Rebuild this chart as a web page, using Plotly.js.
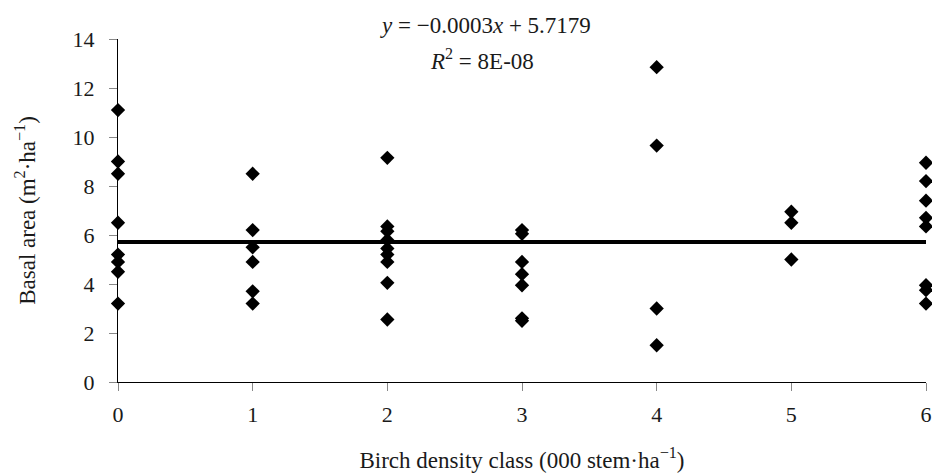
<!DOCTYPE html>
<html>
<head>
<meta charset="utf-8">
<script src="https://cdn.plot.ly/plotly-3.0.1.min.js"></script>
<style>html,body{margin:0;padding:0;background:#fff;}#chart{width:932px;height:473px;}</style>
</head>
<body>
<div id="chart"></div>
<script>
// Birch density class (000 stem/ha) and basal area (m2/ha)
const densityClass = [
  0,0,0,0,0,0,0,0,
  1,1,1,1,1,1,
  2,2,2,2,2,2,2,2,2,
  3,3,3,3,3,3,3,
  4,4,4,4,
  5,5,5,
  6,6,6,6,6,6,6,6
];
const basalArea = [
  11.1,9.0,8.5,6.5,5.2,4.9,4.5,3.2,
  8.5,6.2,5.5,4.9,3.7,3.2,
  9.15,6.35,6.15,5.8,5.45,5.2,4.9,4.05,2.55,
  6.2,6.05,4.9,4.4,3.95,2.6,2.5,
  12.85,9.65,3.0,1.5,
  6.95,6.5,5.0,
  8.95,8.2,7.4,6.7,6.35,3.95,3.75,3.2
];
const trendSlope = -0.0003;
const trendIntercept = 5.7179;
const trendX = [0, 6];
const trendY = trendX.map(x => trendIntercept + trendSlope * x);
const xTicks = [0,1,2,3,4,5,6];
const yTicks = [0,2,4,6,8,10,12,14];

const serif = "Liberation Serif, Times New Roman, serif";
const txt = '#1a1a1a';

const traces = [
  {
    x: densityClass, y: basalArea, type: 'scatter', mode: 'markers',
    marker: {symbol: 'diamond', size: 11, color: '#000'},
    cliponaxis: false, hoverinfo: 'x+y'
  },
  {
    x: trendX, y: trendY, type: 'scatter', mode: 'lines',
    line: {color: '#000', width: 4}, cliponaxis: false
  }
];

const layout = {
  width: 932, height: 473,
  margin: {l: 118, r: 6, t: 39, b: 91},
  paper_bgcolor: '#fff', plot_bgcolor: '#fff',
  showlegend: false,
  font: {family: serif, size: 22, color: txt},
  xaxis: {
    range: [0, 6], tickvals: xTicks, ticktext: xTicks.map(String),
    showgrid: false, zeroline: false, showline: true, linecolor: '#000', linewidth: 1,
    ticks: 'outside', ticklen: 8, tickcolor: '#888', tickwidth: 1,
    ticklabelstandoff: 5,
    tickfont: {family: serif, size: 22, color: txt},
    title: {text: 'Birch density class (000 stem·ha<sup>−1</sup>)', font: {family: serif, size: 23, color: txt}, standoff: 26}
  },
  yaxis: {
    range: [0, 14], tickvals: yTicks, ticktext: yTicks.map(String),
    showgrid: false, zeroline: false, showline: true, linecolor: '#000', linewidth: 1,
    ticks: 'outside', ticklen: 8, tickcolor: '#888', tickwidth: 1,
    ticklabelstandoff: 10,
    tickfont: {family: serif, size: 22, color: txt},
    title: {text: 'Basal area (m<sup>2</sup>·ha<sup>−1</sup>)', font: {family: serif, size: 23, color: txt}, standoff: 30}
  },
  annotations: [
    {xref: 'paper', yref: 'paper', x: (485-118)/808, y: 1 + (39-25)/343.3, xanchor: 'center', yanchor: 'middle',
     text: '<i>y</i> = −0.0003<i>x</i> + 5.7179', showarrow: false, font: {family: serif, size: 23, color: txt}},
    {xref: 'paper', yref: 'paper', x: (482-118)/808, y: 1 - (60-39)/343.3, xanchor: 'center', yanchor: 'middle',
     text: '<i>R</i><sup>2</sup> = 8E-08', showarrow: false, font: {family: serif, size: 23, color: txt}}
  ]
};

Plotly.newPlot('chart', traces, layout, {displayModeBar: false, staticPlot: true});
</script>
</body>
</html>
